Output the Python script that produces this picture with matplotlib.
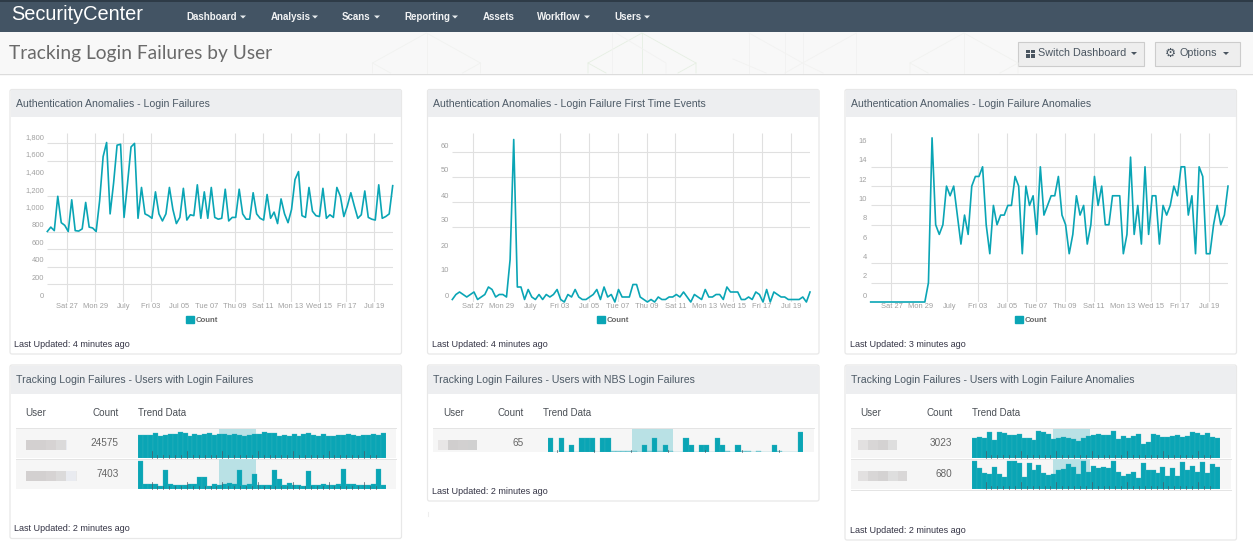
import numpy as np
import matplotlib
matplotlib.use('Agg')
import matplotlib.pyplot as plt
from matplotlib.patches import Rectangle, Polygon, Patch, FancyBboxPatch
from matplotlib.transforms import ScaledTranslation

W, H = 1253, 555
TEAL = '#0aa5b5'
FONT = 'Liberation Sans'

# line chart values
failures = [800, 850, 810, 1200, 900, 870, 800, 1160, 810, 805, 830, 1130, 850, 840, 800, 1150, 1650, 1810, 1000, 1350,
            1780, 1790, 960, 1350, 1760, 1800, 950, 1300, 1000, 980, 950, 1250, 1000, 920, 1000, 1300, 1050, 890, 960, 1290,
            930, 990, 980, 1330, 950, 1250, 950, 1300, 960, 940, 950, 1280, 920, 960, 960, 1280, 1000, 940, 940, 1240,
            1000, 950, 930, 1220, 950, 1020, 890, 1170, 1000, 900, 1050, 1390, 1480, 980, 960, 1300, 1030, 980, 970, 1290,
            950, 990, 960, 1300, 1200, 970, 1090, 1240, 1090, 950, 990, 1260, 960, 940, 930, 1330, 950, 970, 1000, 1320]
first_time = [1, 3, 4, 3, 2, 3, 4, 1, 2, 3, 6, 5, 2, 3, 3, 2, 17, 65, 6, 6,
              1, 5, 2, 1, 3, 1, 3, 2, 3, 5, 1, 0, 3, 2, 5, 2, 1, 1, 2, 3,
              5, 1, 6, 2, 3, 0, 5, 2, 2, 2, 7, 7, 2, 1, 0, 1, 0, 2, 1, 1,
              2, 2, 3, 2, 4, 2, 0, 3, 2, 1, 5, 2, 2, 3, 3, 1, 6, 4, 4, 4,
              1, 1, 2, 1, 4, 3, 0, 5, 0, 4, 3, 2, 2, 1, 1, 1, 1, 2, 0, 4]
anomalies = [0, 0, 0, 0, 0, 0, 0, 0, 0, 0, 0, 0, 0, 0, 0, 0, 2, 17, 8, 7,
             8, 12, 11, 12, 9, 6, 9, 7, 12, 13, 13, 14, 8, 5, 10, 8, 9, 9, 10, 10,
             13, 12, 5, 12, 10, 11, 7, 14, 9, 10, 11, 11, 13, 9, 8, 5, 7, 11, 9, 10,
             6, 8, 13, 10, 12, 8, 8, 11, 11, 11, 5, 7, 15, 7, 10, 6, 14, 7, 11, 11,
             6, 10, 9, 10, 12, 11, 14, 14, 9, 11, 5, 14, 13, 5, 5, 8, 10, 8, 9, 12]
tick_labels = ['Sat 27', 'Mon 29', 'July', 'Fri 03', 'Jul 05', 'Tue 07', 'Thu 09', 'Sat 11', 'Mon 13', 'Wed 15', 'Fri 17', 'Jul 19']

# sparkline values
spark_a1 = [70, 70, 70, 74, 66, 70, 73, 73, 77, 75, 67, 71, 68, 71, 75, 69, 71, 73, 69, 72,
            69, 67, 69, 72, 71, 77, 74, 75, 67, 70, 66, 72, 65, 71, 76, 69, 66, 72, 65, 67,
            68, 69, 72, 70, 65, 69, 70, 72, 68, 76]
spark_a2 = [80, 13, 12, 13, 8, 54, 14, 10, 11, 11, 12, 13, 33, 33, 8, 12, 9, 12, 16, 12,
            55, 9, 14, 42, 11, 11, 11, 55, 27, 9, 15, 9, 11, 6, 53, 10, 11, 12, 11, 11,
            12, 58, 12, 12, 10, 10, 9, 12, 57, 11]
spark_b1 = [41, 0, 41, 0, 20, 0, 41, 41, 41, 0, 41, 41, 0.1, 0.1, 0.1, 0.1, 0.1, 0, 20, 0.1,
            41, 0.1, 20, 0.1, 0, 0, 41, 20, 0, 20, 20, 0, 41, 20, 0.1, 0, 20, 0.1, 0.1, 0,
            0.1, 0, 0, 20, 0.1, 0, 0, 0, 60]
spark_c1 = [60, 64, 60, 77, 54, 77, 74, 68, 69, 72, 59, 59, 54, 80, 79, 72, 56, 60, 63, 61,
            56, 52, 61, 67, 68, 72, 68, 68, 80, 58, 66, 60, 65, 72, 43, 48, 72, 68, 64, 63,
            65, 69, 64, 65, 78, 76, 68, 74, 63, 60]
spark_c2 = [80, 60, 47, 43, 63, 43, 34, 80, 80, 75, 35, 75, 55, 70, 45, 40, 43, 55, 58, 72,
            63, 43, 80, 50, 67, 60, 63, 60, 80, 50, 38, 43, 50, 30, 75, 55, 55, 45, 63, 38,
            59, 38, 79, 55, 67, 50, 79, 45, 72, 63]

nav_items = ['Dashboard', 'Analysis', 'Scans', 'Reporting', 'Assets', 'Workflow', 'Users']
nav_left = [186, 270.5, 342, 404, 483, 537, 614]
nav_caret = [243, 315, 377, 455, None, 587, 647]


def px_axes(fig, left, top, right, bottom):
    return fig.add_axes([left / W, 1 - bottom / H, (right - left) / W, (bottom - top) / H])


def caret(ax, x, y, color):
    ax.add_patch(Polygon([[x - 3, y - 1.5], [x + 3, y - 1.5], [x, y + 1.5]], color=color, lw=0))


def line_chart(fig, left, right, values, ymax, yticks, yfmt, hgrid, vgrid_skip, legend_x):
    ax = px_axes(fig, left, 133, right, 302)
    ax.patch.set_alpha(0)
    x = np.arange(len(values))
    ticks = 5.75 + 8 * np.arange(len(tick_labels))
    ax.hlines(hgrid, 0, x[-1], color='#e0e0e0', lw=0.8, zorder=1)
    keep = [t for i, t in enumerate(ticks) if i not in vgrid_skip]
    ax.vlines(keep, 0, ymax, color='#e0e0e0', lw=0.8, zorder=1)
    ax.plot(x, values, color=TEAL, lw=1.2, clip_on=False, zorder=3, label='Count')
    ax.set_xlim(0, x[-1])
    ax.set_ylim(0, ymax)
    ax.set_xticks(ticks)
    ax.set_xticklabels(tick_labels)
    ax.set_yticks(yticks)
    ax.set_yticklabels([yfmt.format(v) for v in yticks])
    ax.tick_params(length=0, labelsize=5.4, labelcolor='#a0a0a0', pad=1)
    ax.tick_params(axis='y', pad=2.5)
    up = ScaledTranslation(0, 6 / 100, fig.dpi_scale_trans)
    for lab in ax.get_yticklabels():
        lab.set_va('center')
        lab.set_transform(lab.get_transform() + up)
    for lab in ax.get_xticklabels() + ax.get_yticklabels():
        lab.set_fontfamily(FONT)
    for s in ax.spines.values():
        s.set_visible(False)
    ax.legend(handles=[Patch(color=TEAL, label='Count')], loc='center', bbox_to_anchor=(legend_x, -0.107),
              frameon=False, handlelength=1.0, handleheight=1.0, handletextpad=0.25,
              prop={'family': FONT, 'size': 5.6, 'weight': 'bold'}, labelcolor='#666666')
    return ax


def spark(fig, left, right, top, bottom, values, band, ylim=87):
    ax = px_axes(fig, left, top, right, bottom)
    ax.axis('off')
    ax.set_xlim(-0.5, len(values) - 0.5)
    ax.set_ylim(0, ylim)
    ax.axvspan(band[0], band[1], color='#b9e1e5', lw=0, zorder=1)
    colors = [TEAL if v >= 1 else '#8fd0d8' for v in values]
    ax.bar(np.arange(len(values)), values, width=1.0, color=colors, edgecolor='#3fb6c3', lw=0.2, zorder=2)
    return ax


plt.rcParams['font.family'] = FONT
fig = plt.figure(figsize=(W / 100, H / 100), dpi=100, facecolor='white')

# page chrome in pixel coordinates
bg = fig.add_axes([0, 0, 1, 1])
bg.set_xlim(0, W)
bg.set_ylim(H, 0)
bg.axis('off')
bg.add_patch(Rectangle((0, 0), W, 32, color='#435464', lw=0))
bg.add_patch(Rectangle((0, 0), W, 2, color='#2e3b47', lw=0))
bg.add_patch(Rectangle((0, 32), W, 41, color='#f8f8f8', lw=0))
bg.plot([0, W], [73.5, 73.5], color='#dcdcdc', lw=1)

# faint hexagons behind the page header
for cx, col in [(426.5, '#f1f2f0'), (642, '#e6efe3'), (964, '#f1f2f0')]:
    bg.plot([cx - 54, cx - 54, cx, cx + 54, cx + 54], [73, 63, 33, 63, 73], color=col, lw=0.6)
    bg.plot([cx, cx], [33, 73], color=col, lw=0.6)
    bg.plot([cx - 54, cx - 36], [63, 73], color=col, lw=0.6)
    bg.plot([cx + 54, cx + 36], [63, 73], color=col, lw=0.6)
for xs, ys in [([749, 802.6, 823], [33, 63, 73]), ([856.4, 802.6, 785], [33, 63, 73]), ([733, 766], [59, 73]),
               ([749, 749], [33, 73]), ([785, 785], [33, 73]), ([803, 803], [33, 73]), ([856, 856], [33, 73]),
               ([616, 666, 666], [33, 63, 73]), ([612, 612], [33, 73])]:
    bg.plot(xs, ys, color='#f2f2f1', lw=0.6)

bg.text(11.5, 14, 'SecurityCenter', color='white', fontsize=14.4, va='center', ha='left')
for name, xl, xc in zip(nav_items, nav_left, nav_caret):
    bg.text(xl, 17, name, color='white', fontsize=7.05, va='center', ha='left', weight='bold', alpha=0.93)
    if xc is not None:
        caret(bg, xc, 17, '#e8ecef')

bg.text(9, 53, 'Tracking Login Failures by User', color='#6a6a6a', fontsize=13.8, va='center', ha='left', family='Lato')

bg.add_patch(Rectangle((1017.5, 42), 126, 24, facecolor='#eeeeee', edgecolor='#cccccc', lw=0.8))
bg.add_patch(Rectangle((1154.5, 42), 85, 24, facecolor='#eeeeee', edgecolor='#cccccc', lw=0.8))
for gx in [1026, 1031]:
    for gy in [49.5, 54]:
        bg.add_patch(Rectangle((gx, gy), 4, 3.7, color='#4a5560', lw=0))
bg.text(1038, 53.5, 'Switch Dashboard', color='#4a5560', fontsize=7.75, va='center', ha='left')
caret(bg, 1134, 53.5, '#4a5560')
bg.text(1170, 53, '\u2699', color='#4a5560', fontsize=9, va='center', ha='center', family='DejaVu Sans')
bg.text(1180, 53.5, 'Options', color='#4a5560', fontsize=7.75, va='center', ha='left')
caret(bg, 1226, 53.5, '#4a5560')

# panels
titles = ['Authentication Anomalies - Login Failures',
          'Authentication Anomalies - Login Failure First Time Events',
          'Authentication Anomalies - Login Failure Anomalies',
          'Tracking Login Failures - Users with Login Failures',
          'Tracking Login Failures - Users with NBS Login Failures',
          'Tracking Login Failures - Users with Login Failure Anomalies']
updated = ['Last Updated: 4 minutes ago', 'Last Updated: 4 minutes ago', 'Last Updated: 3 minutes ago',
           'Last Updated: 2 minutes ago', 'Last Updated: 2 minutes ago', 'Last Updated: 2 minutes ago']
lefts = [10, 427.5, 845, 10, 427.5, 845]
tops = [89.5, 89.5, 89.5, 365, 365, 365]
heads = [116.5, 116.5, 116.5, 394, 394, 394]
bottoms = [354, 354, 354, 538.5, 501, 540]
upd_y = [344.5, 344.5, 344.5, 528.5, 491.5, 530.5]
for i in range(6):
    x0, y0, yh, y1 = lefts[i], tops[i], heads[i], bottoms[i]
    bg.add_patch(FancyBboxPatch((x0, y0), 391.5, y1 - y0, boxstyle='round,pad=0,rounding_size=2',
                                facecolor='white', edgecolor='#e8e8e8', lw=0.9))
    bg.add_patch(Rectangle((x0 + 0.5, y0 + 0.5), 390.5, yh - y0 - 0.5, facecolor='#edeef0', lw=0))
    bg.text(x0 + 5.8, (y0 + yh) / 2 + 0.6, titles[i], color='#4d5a66', fontsize=7.58, va='center', ha='left')
    bg.text(x0 + 4.5, upd_y[i], updated[i], color='#333344', fontsize=6.5, va='center', ha='left')

# table chrome
count_right = [118.5, 523.5, 952.5]
trend_left = [138, 543, 972.5]
user_x = [25.5, 443, 860.5]
row_left = [16, 433, 851]
row_right = [396, 814, 1231]
blur_widths = [[41, 51], [39], [39, 49]]
blur_grays = [['#d3d0d0', '#d3d0d0', '#d6d3d3', '#dbdada', '#e9ebf0', '#e8e8e8'],
              ['#e8e6e6', '#d0cece', '#d2d0d0', '#d0d0d0'],
              ['#e2e0e0', '#d8d6d6', '#d4d2d2', '#dedede', '#d9d7d7', '#e4e4e4']]
counts = [['24575', '7403'], ['65'], ['3023', '680']]
blur_left = [26, 438, 858]
row_tops = [428.5, 459]
row_bots = [458, 488.5]
for p in range(3):
    bg.text(user_x[p], 413.5, 'User', color='#4a4f55', fontsize=7.1, va='center', ha='left')
    bg.text(count_right[p], 413.5, 'Count', color='#4a4f55', fontsize=7.1, va='center', ha='right')
    bg.text(trend_left[p], 413.5, 'Trend Data', color='#4a4f55', fontsize=7.0, va='center', ha='left')
    for r, label in enumerate(counts[p]):
        bot = row_bots[r] if p != 1 else 451.5
        bg.add_patch(Rectangle((row_left[p], row_tops[r]), row_right[p] - row_left[p], bot - row_tops[r], color='#f6f6f6', lw=0))
        bg.plot([row_left[p], row_right[p]], [row_tops[r] - 0.3] * 2, color='#e4e4e4', lw=0.7)
        yc = row_tops[r] + 15
        bg.text(count_right[p], yc, label, color='#666666', fontsize=7.2, va='center', ha='right')
        n = int(np.ceil(blur_widths[p][r] / 10))
        for k in range(n):
            wid = min(10, blur_widths[p][r] - 10 * k)
            bg.add_patch(Rectangle((blur_left[p] + 10 * k, yc - 3.5), wid, 10, color=blur_grays[p][k % 6], lw=0))
bg.plot([851, 1231], [489.5, 489.5], color='#e4e4e4', lw=0.7)
bg.plot([427.8, 427.8], [511.5, 516], color='#eeeeee', lw=0.8)

# line charts
line_chart(fig, 47.3, 392.7, failures, 1918, list(range(0, 1801, 200)), '{:,}',
           [200, 400, 600, 800, 1200, 1600, 1800], [4, 5], 0.449)
line_chart(fig, 452.3, 810, first_time, 67.6, [0, 10, 20, 30, 40, 50, 60], '{}',
           [30, 40, 50, 60], [1, 2, 8], 0.449)
line_chart(fig, 870.7, 1228, anomalies, 17.5, list(range(0, 17, 2)), '{}',
           [2, 4, 8, 10, 12, 14], [1, 2, 8], 0.449)

# sparklines
spark(fig, 138, 385.7, 429, 458, spark_a1, (15.8, 23.3))
spark(fig, 138, 385.7, 459, 488.5, spark_a2, (15.8, 23.3))
spark(fig, 548.3, 803, 429, 451.5, spark_b1, (15.6, 23.4), ylim=68)
spark(fig, 972, 1220, 429, 458, spark_c1, (15.8, 23.3))
spark(fig, 972, 1220, 459, 488.5, spark_c2, (15.8, 23.3))

# little tick marks under the sparklines
marks = fig.add_axes([0, 0, 1, 1])
marks.set_xlim(0, W)
marks.set_ylim(H, 0)
marks.axis('off')
for x_start, bots in [(151.5, [458, 488.5]), (985.5, [458, 488.5])]:
    for yb in bots:
        for k in range(39):
            xt = x_start + 5.9 * k
            if xt > 382 + (x_start - 151.5):
                break
            marks.plot([xt, xt], [yb, yb - (7 if k % 6 == 0 else 3)], color='#4a5a66', lw=0.5)
for k in range(7):
    xt = 557.3 + 37 * k
    marks.plot([xt, xt], [451.5, 450], color='#4a5a66', lw=0.5)

fig.savefig('out.png', dpi=100)
